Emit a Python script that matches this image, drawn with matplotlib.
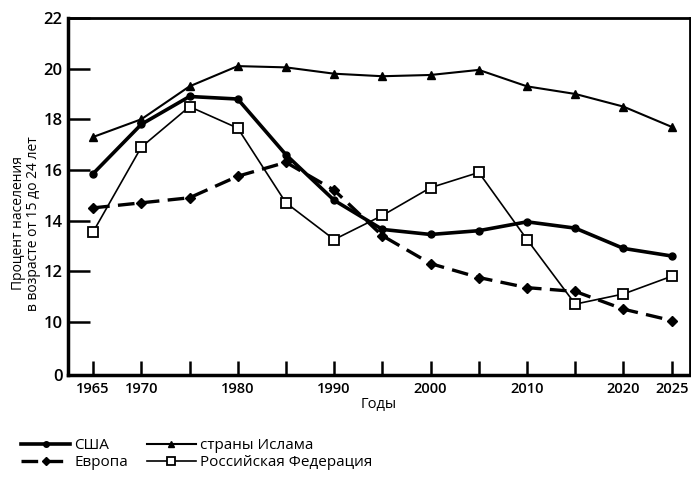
import matplotlib
matplotlib.use("Agg")
import matplotlib.pyplot as plt
import numpy as np

plt.rcParams['font.family'] = ['Open Sans', 'DejaVu Sans']

years = [1965, 1970, 1975, 1980, 1985, 1990, 1995, 2000, 2005, 2010, 2015, 2020, 2025]
usa = [15.85, 17.8, 18.9, 18.8, 16.6, 14.8, 13.65, 13.45, 13.6, 13.95, 13.7, 12.9, 12.6]
islam = [17.3, 18.0, 19.3, 20.1, 20.05, 19.8, 19.7, 19.75, 19.95, 19.3, 19.0, 18.5, 17.7]
europe = [14.5, 14.7, 14.9, 15.75, 16.3, 15.2, 13.4, 12.3, 11.75, 11.35, 11.2, 10.5, 10.05]
russia = [13.55, 16.9, 18.5, 17.65, 14.7, 13.25, 14.2, 15.3, 15.9, 13.25, 10.7, 11.1, 11.8]

xticks = [1965, 1970, 1980, 1990, 2000, 2010, 2020, 2025]
yticks = [0, 10, 12, 14, 16, 18, 20, 22]

# разрыв оси: от 0 до 10 сжато
K = 0.21
def fwd(v):
    v = np.asarray(v, dtype=float)
    return np.where(v >= 10, v, 10 - (10 - v) * K)

def inv(y):
    y = np.asarray(y, dtype=float)
    return np.where(y >= 10, y, 10 - (10 - y) / K)

fig = plt.figure(figsize=(6.91, 4.84), dpi=100)
ax = fig.add_axes([68 / 691, 1 - 375 / 484, 622 / 691, 357 / 484])
ax.set_yscale('function', functions=(fwd, inv))

l1, = ax.plot(years, usa, color='black', lw=2.6, marker='o', ms=5, label='США')
l2, = ax.plot(years, islam, color='black', lw=1.5, marker='^', ms=6, label='страны Ислама')
l3, = ax.plot(years, europe, color='black', lw=2.4, ls=(0, (5, 2.5)), marker='D', ms=5.5, label='Европа')
l4, = ax.plot(years, russia, color='black', lw=1.2, marker='s', ms=6.5, mfc='white', mew=1.3,
              label='Российская Федерация')

ax.set_xlim(1962.4, 2026.9)
ax.set_ylim(0, 22)
ax.set_xticks(range(1965, 2026, 5))
ax.set_xticklabels([str(y) if y in xticks else '' for y in range(1965, 2026, 5)])
ax.set_yticks(yticks)
ax.minorticks_off()

ax.tick_params(axis='x', direction='in', length=10, width=1.8, labelsize=10.5, pad=5)
ax.tick_params(axis='y', direction='in', length=16, width=1.8, labelsize=12, pad=4)
for lab in ax.get_xticklabels() + ax.get_yticklabels():
    lab.set_fontweight('semibold')
for s in ax.spines.values():
    s.set_linewidth(2)
ax.spines['left'].set_linewidth(2.5)
ax.spines['bottom'].set_linewidth(2.5)

ax.set_xlabel('Годы', fontsize=10.5, labelpad=1)
ax.set_ylabel('Процент населения\nв возрасте от 15 до 24 лет', fontsize=10, linespacing=1.05)
ax.yaxis.set_label_coords(-0.043, 0.425)

fig.legend(handles=[l1, l3, l2, l4], ncol=2, frameon=False, loc='upper left',
           bbox_to_anchor=(15 / 691, 1 - 432 / 484), fontsize=11, handlelength=3.2,
           handletextpad=0.3, columnspacing=1.2, labelspacing=0.15, borderaxespad=0,
           markerscale=0.8)

fig.savefig('out.png', dpi=100)
